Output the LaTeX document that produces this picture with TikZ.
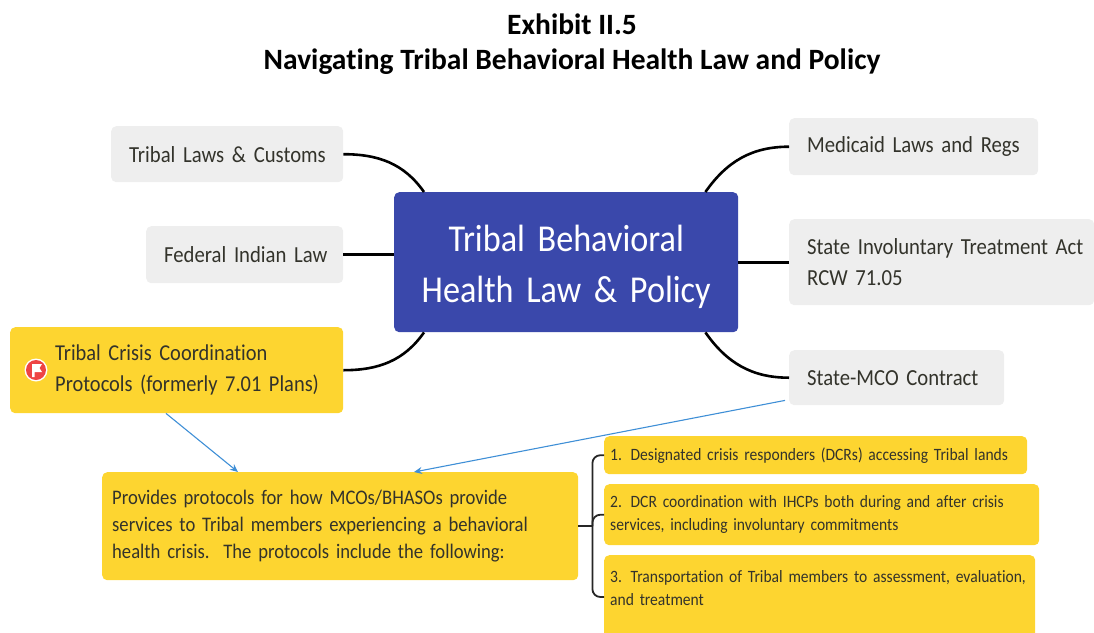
\documentclass[tikz,border=0pt]{standalone}
\usepackage{fontspec}
\setmainfont{Carlito}[FakeStretch=0.9,Ligatures=NoCommon]
\newfontfamily\titlefont{Carlito}[Ligatures=NoCommon]
\usetikzlibrary{arrows.meta,calc}
\definecolor{hubblue}{HTML}{3A48AB}
\definecolor{leafgray}{HTML}{EEEEEE}
\definecolor{leafyellow}{HTML}{FDD530}
\definecolor{inktext}{HTML}{33332B}
\definecolor{arrowblue}{HTML}{3F8FD6}
\definecolor{flagred}{HTML}{EE4444}
\newcommand{\oneline}[1]{\mbox{#1}}
\tikzset{
  x=1pt,y=-1pt,
  box/.style={anchor=north west,rounded corners=5pt,inner ysep=0pt,align=left,text=inktext},
  graybox/.style={box,fill=leafgray,inner xsep=18pt,font=\fontsize{23}{31}\selectfont},
  yellowbox/.style={box,fill=leafyellow,inner xsep=10pt},
  hubbox/.style={box,fill=hubblue,text=white,align=center,inner xsep=0pt,font=\fontsize{38}{51}\selectfont},
  link/.style={draw=black,line width=2.6pt},
  thinlink/.style={draw=black!85,line width=1.8pt,rounded corners=8pt},
  note/.style={draw=arrowblue,line width=1.1pt,-{Stealth[length=8pt,width=7pt]}},
  titletext/.style={font=\titlefont\bfseries\fontsize{29.5}{35}\selectfont,align=center,text=black}
}
\begin{document}
\begin{tikzpicture}
\useasboundingbox (0,0) rectangle (1094,632);
\node[titletext] (title) at (572,44.5) {Exhibit II.5\\Navigating Tribal Behavioral Health Law and Policy};

\node[hubbox,minimum width=344,minimum height=140,text width=344] (hub) at (394,192) {\rule{0pt}{36pt}Tribal Behavioral\\Health Law \& Policy};

\node[graybox,minimum width=232,minimum height=56,text width=196] (tl) at (111,126) {\oneline{Tribal Laws \& Customs}};
\node[graybox,minimum width=197,minimum height=57,text width=161] (fl) at (146,226) {\oneline{Federal Indian Law}};
\node[box,fill=leafyellow,inner xsep=0pt,minimum width=333,minimum height=86,text width=333,font=\fontsize{22.7}{31}\selectfont] (cp) at (10,327) {\hspace*{45pt}\oneline{Tribal Crisis Coordination}\\\hspace*{45pt}\oneline{Protocols (formerly 7.01 Plans)}};
\node[graybox,minimum width=249,minimum height=57,text width=213] (ml) at (789,118) {\oneline{Medicaid Laws and Regs}};
\node[graybox,minimum width=305,minimum height=86,text width=269,inner xsep=18pt] (st) at (789,219) {\oneline{State Involuntary Treatment Act}\\RCW 71.05};
\node[graybox,minimum width=215,minimum height=55,text width=179] (mc) at (789,350) {\oneline{State-MCO Contract}};

\node[yellowbox,minimum width=476,minimum height=108,text width=456,font=\fontsize{20.7}{27}\selectfont] (pr) at (102,472) {\oneline{Provides protocols for how MCOs/BHASOs provide}\\\oneline{services to Tribal members experiencing a behavioral}\\\oneline{health crisis.\ \ The protocols include the following:}};
\node[box,fill=leafyellow,inner xsep=6pt,minimum width=423,minimum height=38,text width=411,font=\fontsize{17.3}{23}\selectfont] (i1) at (604,436) {\oneline{1. Designated crisis responders (DCRs) accessing Tribal lands}};
\node[box,fill=leafyellow,inner xsep=6pt,minimum width=435,minimum height=61,text width=423,font=\fontsize{17.3}{23}\selectfont] (i2) at (604,484) {\oneline{2. DCR coordination with IHCPs both during and after crisis}\\\oneline{services, including involuntary commitments}};
\node[box,fill=leafyellow,inner xsep=6pt,minimum width=431,minimum height=88,text width=419,font=\fontsize{17.3}{23}\selectfont] (i3) at (604,555) {\oneline{3. Transportation of Tribal members to assessment, evaluation,}\\\oneline{and treatment}\\\mbox{}};

% flag icon
\fill[white] (36,370) circle (11.5);
\fill[flagred] (36,370) circle (10);
\fill[white] (32,364) -- (42,364) -- (39.5,368) -- (42,372) -- (34.5,372) -- (34.5,377) -- (32,377) -- cycle;

% connectors
\coordinate (hubTL) at ($(hub.north west)+(30,0)$);
\coordinate (hubTR) at ($(hub.north east)+(-33,0)$);
\coordinate (hubBL) at ($(hub.south west)+(30,0)$);
\coordinate (hubBR) at ($(hub.south east)+(-33,0)$);
\draw[link] (tl.east) to[out=0,in=125] (hubTL);
\draw[link] (fl.east) -- (hub.west |- fl.east);
\draw[link] (cp.east) to[out=0,in=-125] (hubBL);
\draw[link] (ml.west) to[out=180,in=55] (hubTR);
\draw[link] (st.west) -- (hub.east |- st.west);
\draw[link] (mc.west) to[out=180,in=-55] (hubBR);

\coordinate (cpOut) at ($(cp.south west)+(156,0)$);
\coordinate (prInA) at ($(pr.north west)+(136,0)$);
\coordinate (prInB) at ($(pr.north west)+(312,0)$);
\coordinate (mcOut) at ($(mc.south west)+(-4,-5)$);
\draw[note] (cpOut) -- (prInA);
\draw[note] (mcOut) -- (prInB);

\coordinate (spine) at ($(pr.east)+(14,0)$);
\draw[thinlink] (pr.east) -- (spine);
\draw[thinlink] (i1.west) -- (spine |- i1.west) -- (spine);
\draw[thinlink] (i2.west) -- (spine |- i2.west) -- (spine);
\coordinate (i3In) at ($(i3.north west)+(0,42)$);
\draw[thinlink] (i3In) -- (spine |- i3In) -- (spine);
\end{tikzpicture}
\end{document}
